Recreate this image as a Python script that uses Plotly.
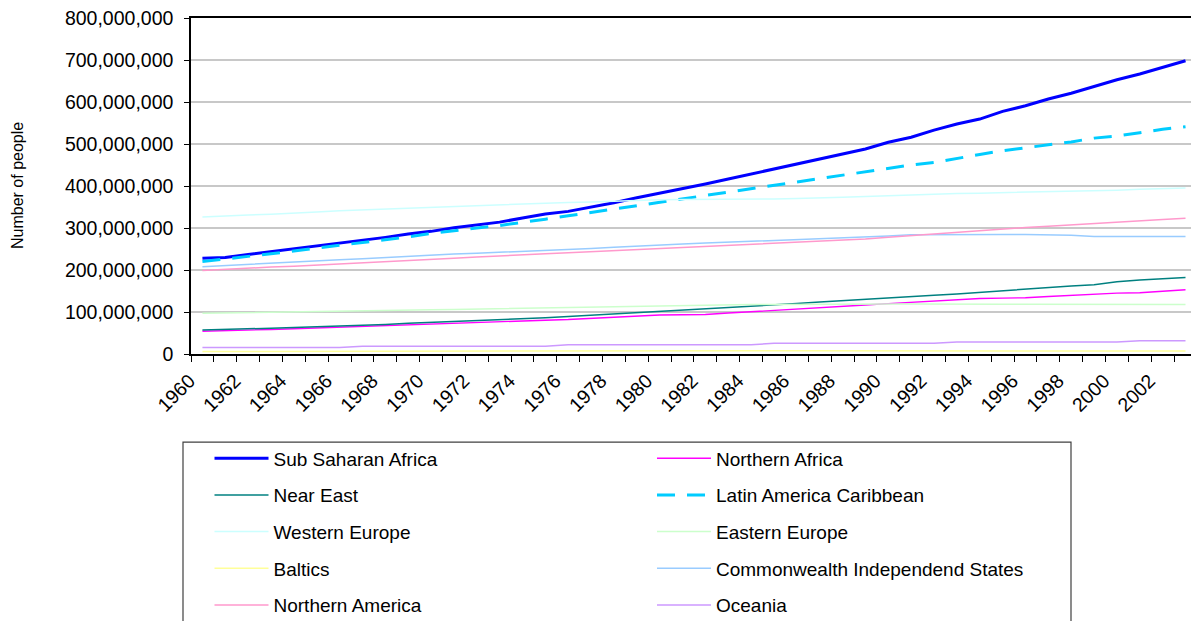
import plotly.graph_objects as go

years = list(range(1960, 2004))

sub_saharan_africa = [227.7, 230, 237, 243.6, 250, 257, 264, 271, 277.7, 285.6, 292, 300.7, 307.9, 314, 323.7,
                      333.3, 339.6, 349, 360, 372, 382.5, 393, 404.7, 416.6, 428.5, 440, 450.7, 462.6, 476, 488,
                      504, 516, 533, 547.5, 559.4, 577.7, 591, 607, 621, 637, 653, 666.6, 682.5, 698.3]
northern_africa = [54, 55, 57, 58.5, 60, 62, 63.5, 65.5, 67.5, 69, 71, 73, 75.5, 77.5, 79, 80.5, 82, 85, 88, 91,
                   93, 93.5, 94, 97.5, 100.5, 103, 106.5, 110, 113.5, 116.5, 120, 123, 127, 130.5, 132, 133, 134,
                   137, 140, 143, 145, 146, 149.5, 153]
near_east = [57, 58, 60, 61.5, 63, 64.5, 66, 68, 70.5, 73, 75, 77, 79, 81, 83.5, 86.5, 89.5, 92.5, 95.5, 98.5,
             101, 103.5, 107, 110, 113.5, 116.5, 120, 124, 127.5, 131, 134, 137, 140, 143, 147, 151, 155, 158.5,
             162, 165, 172, 176, 179, 182]
latin_america_caribbean = [220, 226, 232, 238, 245, 252, 258.5, 265, 272, 279, 287, 294, 300, 306, 313, 321, 329,
                           337, 345, 353, 361, 369, 377, 385, 393, 401, 410, 418, 425, 434, 442, 450, 456, 466,
                           475, 484, 491, 498, 505, 514, 519, 527, 535, 541]
western_europe = [326, 329, 331, 333, 335, 338, 341, 343, 345, 348, 350, 352, 354, 356, 358, 360, 361, 362, 364,
                  365, 367, 368, 368, 368, 369, 369, 370, 371, 373, 375, 377, 379, 381, 382, 383, 384, 385, 387,
                  388, 389, 390, 392, 393, 395]
eastern_europe = [97, 98, 99, 100, 100.5, 101, 102, 103, 104, 104.5, 105.5, 106, 107, 108, 109, 110, 111, 112, 113,
                  114.5, 115.5, 116.5, 117, 117.5, 118, 118, 118.5, 119, 119, 119, 119, 119, 118.5, 118.5, 118.5,
                  118.5, 118.5, 118.5, 118.5, 118.5, 118, 118, 118, 118]
baltics = [6, 6, 6.1, 6.2, 6.3, 6.4, 6.5, 6.5, 6.6, 6.7, 6.8, 6.9, 6.9, 7, 7.1, 7.1, 7.2, 7.3, 7.3, 7.4, 7.5,
           7.5, 7.6, 7.6, 7.7, 7.7, 7.8, 7.8, 7.9, 7.9, 7.9, 7.9, 7.8, 7.7, 7.6, 7.5, 7.4, 7.3, 7.3, 7.2, 7.2,
           7.1, 7.1, 7.0]
commonwealth_independent_states = [208, 211, 214, 217, 219, 222, 224.5, 227, 230, 233, 236, 238, 240, 242, 244,
                                   246, 248, 251, 254, 257, 259, 262, 264, 266, 268, 270, 272, 274, 277, 279, 281,
                                   284, 284.5, 284.5, 284.5, 284.5, 284.5, 284, 283, 280, 280, 280, 280, 280]
northern_america = [199, 202, 204.5, 207, 209, 211.5, 214, 217, 219.5, 222, 225, 228, 231, 234, 236, 238.5, 241,
                    243.5, 246, 248, 251, 254, 256, 258, 260, 263, 265, 267.5, 270, 274, 278, 282, 285.5, 289.5,
                    293.5, 297.5, 301, 304, 307.5, 311, 314, 317, 320, 323]
oceania = [15.5] * 7 + [18.5] * 9 + [22] * 9 + [25.5] * 8 + [28.5] * 8 + [31.5] * 3

tick_years = list(range(1960, 2003, 2))
tick_labels = [str(y) for y in tick_years]

series = [
    ("Sub Saharan Africa", sub_saharan_africa, "#0000ff", 3, "solid", "legend"),
    ("Northern Africa", northern_africa, "#ff00ff", 1.4, "solid", "legend2"),
    ("Near East", near_east, "#008080", 1.5, "solid", "legend"),
    ("Latin America Caribbean", latin_america_caribbean, "#00ccff", 3, "18px,12px", "legend2"),
    ("Western Europe", western_europe, "#ccffff", 1.5, "solid", "legend"),
    ("Eastern Europe", eastern_europe, "#ccffcc", 1.5, "solid", "legend2"),
    ("Baltics", baltics, "#ffff99", 1.5, "solid", "legend"),
    ("Commonwealth Independend States", commonwealth_independent_states, "#99ccff", 1.5, "solid", "legend2"),
    ("Northern America", northern_america, "#ff99cc", 1.5, "solid", "legend"),
    ("Oceania", oceania, "#cc99ff", 1.5, "solid", "legend2"),
]

fig = go.Figure()
for name, vals, color, width, dash, leg in series:
    fig.add_trace(go.Scatter(
        x=years, y=[v * 1e6 for v in vals], mode="lines", name=name,
        line=dict(color=color, width=width, dash=dash),
        legend=leg, legendgroup=name,
    ))

FONT = "Liberation Sans, Arial, sans-serif"
legend_common = dict(
    orientation="v", font=dict(family=FONT, size=19, color="#000000"),
    bgcolor="rgba(0,0,0,0)", borderwidth=0, tracegroupgap=9,
    itemwidth=54, yanchor="top", xanchor="left", yref="paper", xref="paper",
)

fig.update_layout(
    width=1191, height=621,
    margin=dict(l=191, r=0, t=18, b=267, autoexpand=False),
    paper_bgcolor="#ffffff", plot_bgcolor="#ffffff",
    font=dict(family=FONT, size=19, color="#000000"),
    showlegend=True,
    legend=dict(x=0.0185, y=-0.254, **legend_common),
    legend2=dict(x=0.461, y=-0.254, **legend_common),
    xaxis=dict(
        range=[1959.5, 2003.24], tickmode="array", tickvals=tick_years, ticktext=tick_labels,
        ticks="", tickangle=-45, tickfont=dict(family=FONT, size=19.5),
        ticklabelstandoff=6, ticklabelshift=-13, automargin=False,
        showgrid=False, zeroline=False, showline=True, linecolor="#000000", linewidth=1.5, mirror=True,
        minor=dict(tick0=1959.5, dtick=1, ticks="outside", ticklen=6, tickcolor="#000000", tickwidth=1.2,
                   showgrid=False),
    ),
    yaxis=dict(
        range=[0, 800e6], dtick=100e6, tickformat=",", tickfont=dict(family=FONT, size=19.5),
        ticks="outside", ticklen=5, tickcolor="#000000", ticklabelstandoff=7, automargin=False,
        showgrid=True, gridcolor="#c8c8c8", gridwidth=1.5, zeroline=False,
        showline=True, linecolor="#000000", linewidth=1.5,
    ),
    annotations=[dict(
        text="Number of people", textangle=-90, xref="paper", yref="paper",
        x=-0.174, y=0.5, showarrow=False, font=dict(family=FONT, size=16),
        xanchor="center", yanchor="middle",
    )],
    shapes=[dict(
        type="rect", xref="paper", yref="paper",
        x0=-0.008, x1=0.880, y0=-0.262, y1=-0.9,
        line=dict(color="#404040", width=1.2), fillcolor="rgba(0,0,0,0)", layer="above",
    )],
)

fig.write_html(
    "out.html",
    config={"displayModeBar": False},
    post_script="document.body.style.margin='0';document.body.style.padding='0';"
                "document.documentElement.style.overflow='hidden';document.body.style.overflow='hidden';",
)
